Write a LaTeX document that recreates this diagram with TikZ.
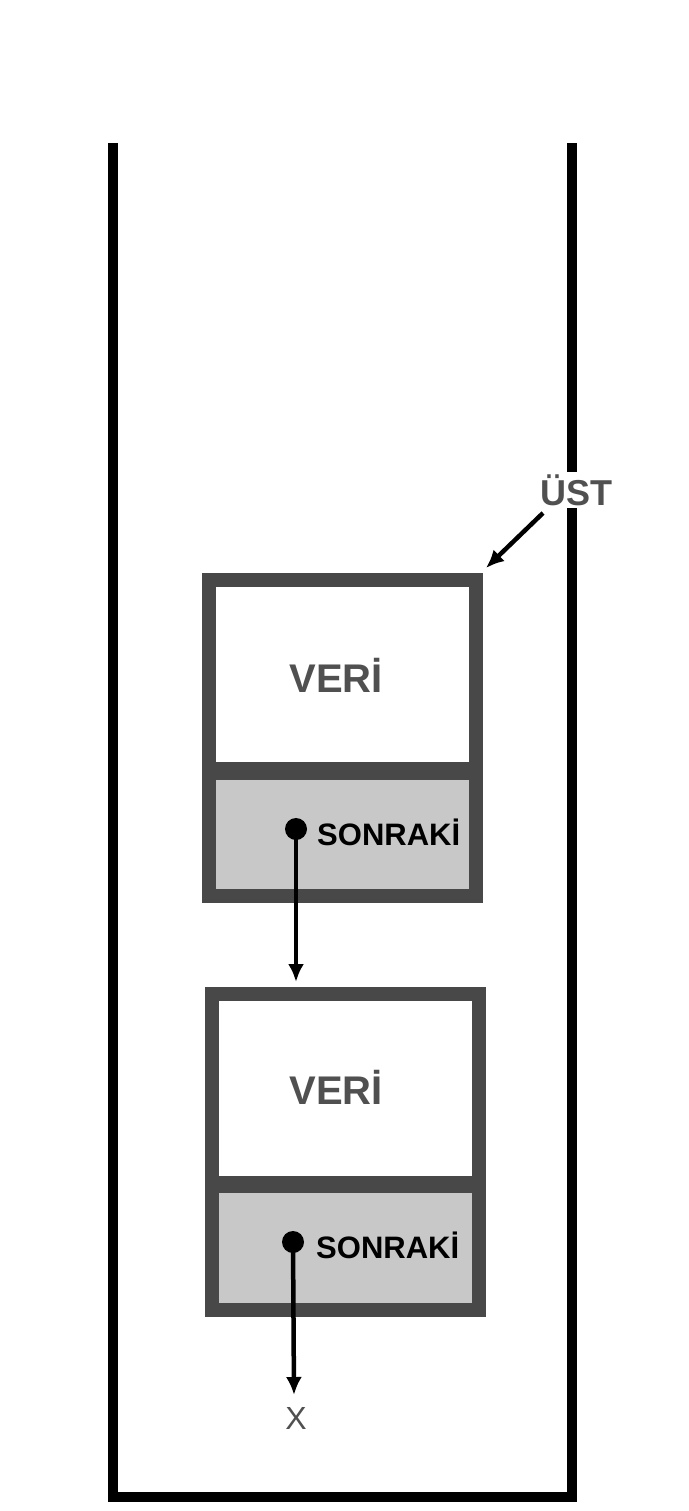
\documentclass[tikz,border=0pt]{standalone}
\usepackage{fontspec}
\setmainfont{Liberation Sans}
\usetikzlibrary{arrows.meta}
\definecolor{frame}{HTML}{484848}
\definecolor{cell}{HTML}{C8C8C8}
\definecolor{lbl}{HTML}{505050}
\begin{document}
\begin{tikzpicture}[x=1pt,y=-1pt,
  node/.style={draw=none,minimum width=267pt,minimum height=316pt,inner sep=0pt,outer sep=0pt},
  cellbox/.style={fill=cell,draw=none},
  bar/.style={fill=frame,draw=none},
  ptr/.style={line width=4.5pt,-{Latex[length=18pt,width=16pt]}},
  veri/.style={font=\bfseries\fontsize{40}{44}\selectfont,text=lbl},
  son/.style={font=\bfseries\fontsize{31}{34}\selectfont,text=black,anchor=west,inner sep=0pt}]
\useasboundingbox (0,0) rectangle (688,1511);
% container
\draw[line width=10pt,line join=miter] (113,143) -- (113,1497) -- (572,1497) -- (572,143);
% box 1
\node[node] (b1) at (342.5,738) {};
\fill[cellbox] (b1.south west) rectangle (476,780);
\fill[bar] (209,762) rectangle (476,780);
\draw[frame,line width=14pt] (b1.north west) rectangle (b1.south east);
\node[veri] (v1) at (336,675) {VERİ};
\fill (296,829) circle (11pt) coordinate (d1);
\node[son] (s1) at (317,832) {SONRAKİ};
% box 2
\node[node] (b2) at (345,1151.5) {};
\fill[cellbox] (b2.south west) rectangle (478,1193);
\fill[bar] (212,1176) rectangle (478,1193);
\draw[frame,line width=14pt] (b2.north west) rectangle (b2.south east);
\node[veri] (v2) at (336,1087) {VERİ};
\fill (293,1242) circle (11pt) coordinate (d2);
\node[son] (s2) at (316,1245) {SONRAKİ};
% arrows
\coordinate (t1) at (296,982);
\draw[ptr] (d1) -- (t1);
\node[text=lbl,font=\fontsize{32}{36}\selectfont,inner sep=0pt] (x) at (296,1418) {X};
\coordinate (t2) at (294,1395);
\draw[ptr] (d2) -- (t2);
\node[fill=white,font=\bfseries\fontsize{36}{40}\selectfont,text=lbl,inner sep=2pt] (ust) at (576,490) {ÜST};
\coordinate (a0) at (543,513);
\coordinate (a1) at (486,568);
\draw[ptr] (a0) -- (a1);
\end{tikzpicture}
\end{document}
